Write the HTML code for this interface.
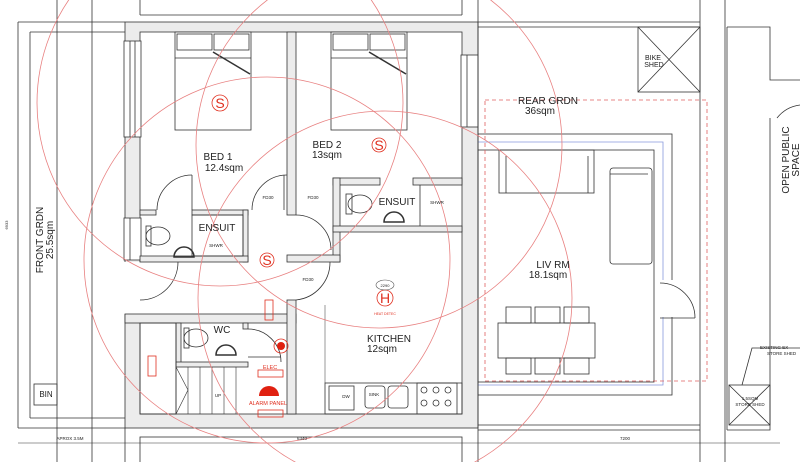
<!DOCTYPE html>
<html><head><meta charset="utf-8"><style>
html,body{margin:0;padding:0;background:#fff;}
svg{display:block;font-family:"Liberation Sans",sans-serif;}
</style></head><body>
<svg width="800" height="462" viewBox="0 0 800 462" xmlns="http://www.w3.org/2000/svg">
<rect width="800" height="462" fill="#fff"/>
<g fill="none" stroke="#333" stroke-width="0.8">
<!-- left garden -->
<line x1="18" y1="22" x2="125" y2="22"/><line x1="30" y1="32" x2="125" y2="32"/>
<line x1="18" y1="22" x2="18" y2="428"/><line x1="30" y1="32" x2="30" y2="418"/>
<line x1="18" y1="428" x2="125" y2="428"/><line x1="30" y1="418" x2="125" y2="418"/>
<line x1="57" y1="0" x2="57" y2="462"/><line x1="92" y1="0" x2="92" y2="462"/>
<rect x="34" y="384" width="23" height="21"/>
<line x1="18" y1="70" x2="125" y2="70" stroke="#fff" stroke-width="0"/>
<!-- top strip -->
<line x1="140" y1="0" x2="140" y2="15"/><line x1="140" y1="15" x2="462" y2="15"/><line x1="462" y1="0" x2="462" y2="15"/>
<line x1="478" y1="22" x2="700" y2="22"/><line x1="478" y1="27" x2="700" y2="27"/>
<!-- house outer -->
<rect x="125" y="22" width="353" height="406" fill="#ececec"/>
<rect x="140" y="32" width="322" height="382" fill="#fff"/>
<!-- windows -->
<rect x="124" y="41" width="17" height="96" fill="#fff"/><line x1="130" y1="41" x2="130" y2="137"/><line x1="135" y1="41" x2="135" y2="137"/>
<rect x="124" y="218" width="17" height="42" fill="#fff"/><line x1="130" y1="218" x2="130" y2="260"/>
<rect x="461" y="55" width="17" height="72" fill="#fff"/><line x1="467" y1="55" x2="467" y2="127"/>
<rect x="122" y="262" width="20" height="52" fill="#fff" stroke="none"/>
<!-- bed divider -->
<rect x="287" y="32" width="9" height="183" fill="#ececec"/>
<!-- bed1 ensuite walls -->
<rect x="140" y="210" width="16" height="5" fill="#ececec"/><rect x="192" y="210" width="56" height="5" fill="#ececec"/>
<rect x="243" y="210" width="5" height="52" fill="#ececec"/>
<rect x="140" y="256" width="108" height="6" fill="#ececec"/>
<rect x="192" y="215" width="51" height="41"/>
<!-- bed2 ensuite -->
<rect x="333" y="178" width="47" height="7" fill="#ececec"/><rect x="413" y="178" width="49" height="7" fill="#ececec"/>
<rect x="333" y="178" width="7" height="84" fill="#ececec"/>
<rect x="333" y="226" width="129" height="6" fill="#ececec"/>
<rect x="287" y="255" width="53" height="7" fill="#ececec"/>
<line x1="420" y1="185" x2="420" y2="226"/>
<!-- WC / stair block -->
<rect x="125" y="314" width="171" height="9" fill="#ececec"/>
<rect x="287" y="300" width="9" height="114" fill="#ececec"/>
<rect x="176" y="323" width="5" height="42" fill="#ececec"/>
<rect x="176" y="362" width="72" height="5" fill="#ececec"/>
<rect x="243" y="323" width="5" height="6" fill="#ececec"/>
<rect x="140" y="323" width="36" height="91"/>
<g stroke-width="0.6"><line x1="188" y1="367" x2="188" y2="414"/><line x1="200" y1="367" x2="200" y2="414"/><line x1="212" y1="367" x2="212" y2="414"/><line x1="224" y1="367" x2="224" y2="414"/><line x1="236" y1="367" x2="236" y2="414"/><line x1="176" y1="367" x2="176" y2="414"/><line x1="176" y1="367" x2="188" y2="390"/><line x1="188" y1="390" x2="176" y2="414"/></g>
<!-- beds -->
<rect x="175" y="32" width="76" height="98" fill="#fff"/><rect x="177" y="34" width="35" height="16"/><rect x="214" y="34" width="35" height="16"/><line x1="175" y1="58" x2="251" y2="58"/><line x1="213" y1="52" x2="250" y2="74" stroke-width="1.5"/>
<rect x="331" y="32" width="76" height="98" fill="#fff"/><rect x="333" y="34" width="35" height="16"/><rect x="370" y="34" width="35" height="16"/><line x1="331" y1="58" x2="407" y2="58"/><line x1="369" y1="52" x2="406" y2="74" stroke-width="1.5"/>
<!-- doors -->
<path d="M157 210 A35 35 0 0 1 192 175" /><line x1="192" y1="175" x2="192" y2="210"/>
<path d="M252 210 A35 35 0 0 1 287 175" /><line x1="284" y1="175" x2="284" y2="210"/>
<path d="M296 215 A35 35 0 0 1 331 250"/>
<path d="M296 300 A38 38 0 0 0 330 262"/>
<path d="M140 300 A38 38 0 0 0 178 262"/>
<path d="M248 329 A33 33 0 0 1 281 362"/><line x1="248" y1="357" x2="281" y2="357"/>
<!-- toilets -->
<ellipse cx="158" cy="236" rx="12" ry="9"/><rect x="146" y="226" width="5" height="20"/>
<ellipse cx="360" cy="204" rx="12" ry="9"/><rect x="346" y="194" width="6" height="20"/>
<ellipse cx="196" cy="338" rx="12" ry="9"/><rect x="184" y="328" width="5" height="20"/>
<path d="M174 257 a10 10 0 0 1 20 0 z" stroke-width="1.5"/>
<path d="M384 222 a10 10 0 0 1 20 0 z" stroke-width="1.5"/>
<path d="M216 355 a10 10 0 0 1 20 0 z" stroke-width="1.5"/>
<!-- kitchen -->
<rect x="325" y="383" width="137" height="31"/>
<rect x="329" y="386" width="25" height="24"/><rect x="365" y="386" width="20" height="22" rx="3"/><rect x="388" y="386" width="20" height="22" rx="3"/>
<rect x="417" y="383" width="40" height="31"/>
<g><circle cx="424" cy="390" r="3"/><circle cx="436" cy="390" r="3"/><circle cx="448" cy="390" r="3"/><circle cx="424" cy="403" r="3"/><circle cx="436" cy="403" r="3"/><circle cx="448" cy="403" r="3"/></g>
<line x1="325" y1="305" x2="325" y2="383" stroke-width="0.5"/>
<!-- living room -->
<rect x="478" y="134" width="194" height="261"/>
<rect x="478" y="150" width="176" height="232"/>
<path d="M478 142 H663 V385 H478" stroke="#8899dd"/>
<rect x="499" y="150" width="95" height="43"/><line x1="506" y1="156" x2="506" y2="193"/><line x1="588" y1="156" x2="588" y2="193"/>
<rect x="610" y="168" width="42" height="96" rx="3"/><line x1="610" y1="174" x2="648" y2="174"/>
<rect x="498" y="323" width="97" height="35"/>
<rect x="506" y="307" width="25" height="16"/><rect x="535" y="307" width="25" height="16"/><rect x="564" y="307" width="25" height="16"/>
<rect x="506" y="358" width="25" height="16"/><rect x="535" y="358" width="25" height="16"/><rect x="564" y="358" width="25" height="16"/>
<rect x="656" y="280" width="20" height="37" fill="#fff" stroke="none"/>
<path d="M660 283 A35 35 0 0 1 695 318"/><line x1="660" y1="318" x2="695" y2="318"/>
<!-- right verticals -->
<line x1="478" y1="0" x2="478" y2="462"/>
<line x1="700" y1="0" x2="700" y2="462"/><line x1="725" y1="0" x2="725" y2="462"/>
<line x1="478" y1="430" x2="700" y2="430"/><line x1="478" y1="425" x2="700" y2="425"/>
<rect x="638" y="27" width="62" height="65"/><line x1="638" y1="27" x2="700" y2="92"/><line x1="638" y1="92" x2="700" y2="27"/>
<path d="M727 27 H770 V80 H800 M770 118 V430 H727"/>
<path d="M777 118 A35 35 0 0 1 800 105"/>
<line x1="727" y1="430" x2="727" y2="27"/>
<rect x="729" y="385" width="41" height="40"/><line x1="729" y1="385" x2="770" y2="425"/><line x1="729" y1="425" x2="770" y2="385"/>
<path d="M800 348 H752 L742 385"/>
<!-- bottom -->
<rect x="140" y="437" width="322" height="30"/>
<line x1="18" y1="443" x2="780" y2="443" stroke-width="0.6"/>
<line x1="125" y1="428" x2="125" y2="462"/>
</g>
<!-- red dashed garden -->
<rect x="485" y="100" width="222" height="281" fill="none" stroke="#e06060" stroke-width="0.8" stroke-dasharray="4,3"/>
<!-- big red circles -->
<g fill="none" stroke="#e88080" stroke-width="0.8">
<circle cx="220" cy="103" r="183"/>
<circle cx="379" cy="145" r="183"/>
<circle cx="267" cy="260" r="183"/>
<circle cx="385" cy="298" r="187"/>
</g>
<!-- red symbols -->
<g fill="none" stroke="#e03020" stroke-width="0.8">
<circle cx="220" cy="103" r="8"/><circle cx="379" cy="145" r="7"/><circle cx="267" cy="260" r="7"/><circle cx="385" cy="298" r="8"/>
<circle cx="281" cy="346" r="7"/>
<rect x="258" y="370" width="25" height="7"/><rect x="258" y="410" width="25" height="7"/>
<rect x="148" y="356" width="8" height="20"/><rect x="265" y="300" width="8" height="20"/>
<ellipse cx="385" cy="285" rx="9" ry="5" stroke="#555" stroke-width="0.6"/>
</g>
<circle cx="281" cy="346" r="4" fill="#e02010"/>
<path d="M259 396 a10 10 0 0 1 20 0 z" fill="#e02010"/>
<g fill="#e03020" font-size="14" text-anchor="middle">
<text x="220" y="108">S</text><text x="379" y="150">S</text><text x="267" y="265">S</text><text x="385" y="303">H</text>
</g>
<g fill="#e03020" font-size="5.5" text-anchor="middle">
<text x="270" y="369">ELEC</text><text x="268" y="405">ALARM PANEL</text><text x="385" y="315" font-size="3.5">HEAT DETEC</text>
</g>
<g fill="#222" text-anchor="middle">
<text x="218" y="160" font-size="10">BED 1</text><text x="224" y="171" font-size="10">12.4sqm</text>
<text x="327" y="148" font-size="10">BED 2</text><text x="327" y="158" font-size="10">13sqm</text>
<text x="217" y="231" font-size="10">ENSUIT</text><text x="397" y="205" font-size="10">ENSUIT</text>
<text x="222" y="333" font-size="10">WC</text>
<text x="389" y="342" font-size="10">KITCHEN</text><text x="382" y="352" font-size="10">12sqm</text>
<text x="553" y="268" font-size="10">LIV RM</text><text x="548" y="278" font-size="10">18.1sqm</text>
<text x="548" y="104" font-size="10">REAR GRDN</text><text x="540" y="114" font-size="10">36sqm</text>
<text x="653" y="60" font-size="7">BIKE</text><text x="654" y="67" font-size="7">SHED</text>
<text x="46" y="397" font-size="8">BIN</text>
<g font-size="4.5"><text x="268" y="199">FD30</text><text x="313" y="199">FD30</text><text x="308" y="281">FD30</text>
<text x="216" y="247">SHWR</text><text x="437" y="204">SHWR</text><text x="218" y="397">UP</text>
<text x="346" y="398">DW</text><text x="374" y="396">SINK</text>
<text x="70" y="440">APROX 3.5M</text><text x="302" y="440">6340</text><text x="625" y="440">7200</text>
<text x="385" y="287" font-size="4">2290</text>
<text x="760" y="349" text-anchor="start" x="767">EXISTING EX</text><text x="767" y="355" text-anchor="start">STORE SHED</text>
<text x="750" y="400">1.5SQM</text><text x="750" y="406">STORE SHED</text></g>
<text transform="translate(43,240) rotate(-90)" font-size="10">FRONT GRDN</text>
<text transform="translate(53,240) rotate(-90)" font-size="10">25.5sqm</text>
<text transform="translate(789,160) rotate(-90)" font-size="10">OPEN PUBLIC</text>
<text transform="translate(799,160) rotate(-90)" font-size="10">SPACE</text>
<text transform="translate(8,225) rotate(-90)" font-size="4">6933</text>
</g>
</svg>
</body></html>
